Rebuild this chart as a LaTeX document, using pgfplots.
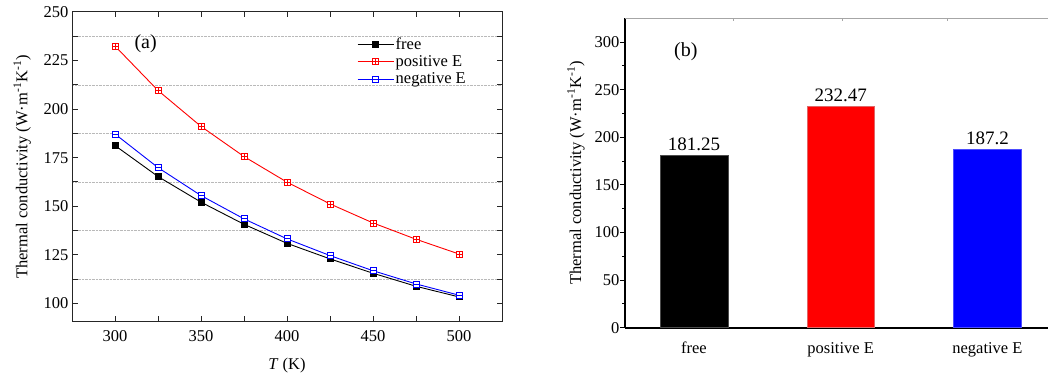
\documentclass[border=0pt]{standalone}
\usepackage{fontspec}
\setmainfont{Liberation Serif}
\usepackage{pgfplots}
\pgfplotsset{compat=1.18}
\pgfdeclareplotmark{boxplus}{%
  \pgfpathrectangle{\pgfpoint{-\pgfplotmarksize}{-\pgfplotmarksize}}{\pgfpoint{2\pgfplotmarksize}{2\pgfplotmarksize}}%
  \pgfusepathqfillstroke
  \pgfpathmoveto{\pgfpoint{-\pgfplotmarksize}{0pt}}\pgfpathlineto{\pgfpoint{\pgfplotmarksize}{0pt}}%
  \pgfpathmoveto{\pgfpoint{0pt}{-\pgfplotmarksize}}\pgfpathlineto{\pgfpoint{0pt}{\pgfplotmarksize}}%
  \pgfusepathqstroke}
\pgfdeclareplotmark{boxminus}{%
  \pgfpathrectangle{\pgfpoint{-\pgfplotmarksize}{-\pgfplotmarksize}}{\pgfpoint{2\pgfplotmarksize}{2\pgfplotmarksize}}%
  \pgfusepathqfillstroke
  \pgfpathmoveto{\pgfpoint{-\pgfplotmarksize}{0pt}}\pgfpathlineto{\pgfpoint{\pgfplotmarksize}{0pt}}%
  \pgfusepathqstroke}
\newcommand{\fs}{\fontsize{16.5}{19.5}\selectfont}
\begin{document}
\begin{tikzpicture}
\useasboundingbox (0,0) rectangle (1048pt,379pt);
% ---------- (a) ----------
\begin{axis}[
  at={(72pt,57pt)}, anchor=south west,
  width=430pt, height=310pt, scale only axis,
  xmin=275, xmax=525, ymin=90.4, ymax=250,
  xtick={300,350,...,500}, minor xtick={325,375,...,475},
  ytick={100,125,...,250}, minor ytick={112.5,137.5,...,237.5},
  tick align=inside, tick pos=both,
  major tick length=5.5pt, minor tick length=5.5pt,
  yminorgrids, minor grid style={densely dotted, gray!55, line width=0.6pt},
  axis line style={black!85, line width=1pt},
  every tick/.style={black!85, line width=1pt},
  /pgf/number format/assume math mode=true,
  tick label style={font=\fs},
  xticklabel style={yshift=-5pt},
  label style={font=\fs},
  xlabel={\textit{T} (K)},
  ylabel={Thermal conductivity (W·m\textsuperscript{-1}K\textsuperscript{-1})},
  x label style={at={(axis description cs:0.5,-0.142)}, anchor=center},
  y label style={at={(axis description cs:-0.116,0.5)}, anchor=center},
  legend style={at={(axis description cs:0.656,0.93)}, anchor=north west,
    draw=none, fill=none, font=\fs, row sep=2pt,
    nodes={inner sep=1.5pt}},
  legend cell align=left,
  legend image code/.code={\draw[mark repeat=2,mark phase=2,#1] plot coordinates {(0pt,0pt) (18pt,0pt) (36pt,0pt)};},
  mark size=3pt,
]
\addplot[black, line width=0.9pt, mark=square*, mark options={fill=black}] coordinates {
  (300,181.25) (325,165.3) (350,152.1) (375,140.7) (400,130.9) (425,122.9) (450,115.5) (475,108.8) (500,103.3)};
\addlegendentry{free}
\addplot[red, line width=0.9pt, mark=boxplus, mark options={fill=white, line width=0.8pt}] coordinates {
  (300,232.47) (325,209.6) (350,191.1) (375,175.6) (400,162.4) (425,151.2) (450,141.4) (475,133.0) (500,125.4)};
\addlegendentry{positive E}
\addplot[blue, line width=0.9pt, mark=boxminus, mark options={fill=white, line width=0.8pt}] coordinates {
  (300,187.2) (325,169.9) (350,155.5) (375,143.5) (400,133.2) (425,124.6) (450,116.8) (475,110.0) (500,104.2)};
\addlegendentry{negative E}
\node[font=\fontsize{20}{24}\selectfont] at (axis cs:317.8,233.5) {(a)};
\end{axis}
% ---------- (b) ----------
\begin{axis}[
  at={(625pt,51.3pt)}, anchor=south west,
  width=423pt, height=309.4pt, scale only axis,
  xmin=-0.47, xmax=2.413, ymin=0, ymax=325,
  axis x line*=bottom, axis y line*=left,
  xtick={0,1,2}, xticklabels={free, positive E, negative E},
  x tick style={draw=none},
  ytick={0,50,...,300}, minor ytick={25,75,...,275},
  ytick align=outside,
  major tick length=5pt, minor tick length=3pt,
  x axis line style={black, line width=1.8pt, -},
  y axis line style={black, line width=1.1pt, -},
  y tick style={black, line width=1pt},
  /pgf/number format/assume math mode=true,
  tick label style={font=\fs},
  xticklabel style={yshift=-6pt},
  yticklabel style={xshift=3pt},
  label style={font=\fs},
  ylabel={Thermal conductivity (W·m\textsuperscript{-1}K\textsuperscript{-1})},
  y label style={at={(axis description cs:-0.116,0.5)}, anchor=center},
  ybar, bar width=67.7pt, bar shift=0pt,
  nodes near coords, point meta=explicit symbolic,
  nodes near coords style={font=\fontsize{19}{22}\selectfont, yshift=1pt},
  clip=false,
]
\addplot[fill=black, draw=black!70] coordinates {(0,181.25) [181.25]};
\addplot[fill=red, draw=red!80!black!60] coordinates {(1,232.47) [232.47]};
\addplot[fill=blue, draw=blue!70] coordinates {(2,187.2) [187.2]};
\draw[gray!70, line width=1pt] (rel axis cs:0,1) -- (rel axis cs:1.01,1);
\draw[gray!70, line width=0.8pt] (axis cs:0.266,325) -- (axis cs:0.266,322);
\draw[gray!70, line width=0.8pt] (axis cs:1.009,325) -- (axis cs:1.009,322);
\draw[gray!70, line width=0.8pt] (axis cs:1.73,325) -- (axis cs:1.73,322);
\node[font=\fontsize{20}{24}\selectfont] at (axis cs:-0.055,290) {(b)};
\end{axis}
\end{tikzpicture}
\end{document}
